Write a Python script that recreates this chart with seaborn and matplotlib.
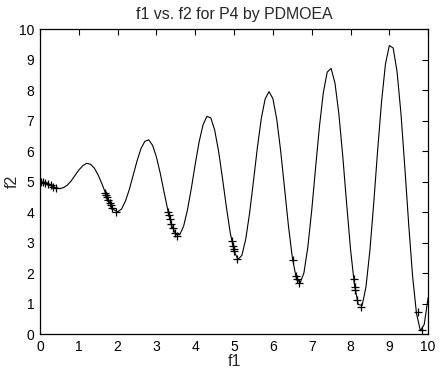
import matplotlib
matplotlib.use("Agg")
import matplotlib.pyplot as plt
import seaborn as sns

curve_f1 = [0.0, 0.1, 0.2, 0.3, 0.4, 0.5, 0.6, 0.7, 0.8, 0.9,
            1.0, 1.1, 1.2, 1.3, 1.4, 1.5, 1.6, 1.7, 1.8, 1.9,
            2.0, 2.1, 2.2, 2.3, 2.4, 2.5, 2.6, 2.7, 2.8, 2.9,
            3.0, 3.1, 3.2, 3.3, 3.4, 3.5, 3.6, 3.7, 3.8, 3.9,
            4.0, 4.1, 4.2, 4.3, 4.4, 4.5, 4.6, 4.7, 4.8, 4.9,
            5.0, 5.1, 5.2, 5.3, 5.4, 5.5, 5.6, 5.7, 5.8, 5.9,
            6.0, 6.1, 6.2, 6.3, 6.4, 6.5, 6.6, 6.7, 6.8, 6.9,
            7.0, 7.1, 7.2, 7.3, 7.4, 7.5, 7.6, 7.7, 7.8, 7.9,
            8.0, 8.1, 8.2, 8.3, 8.4, 8.5, 8.6, 8.7, 8.8, 8.9,
            9.0, 9.1, 9.2, 9.3, 9.4, 9.5, 9.6, 9.7, 9.8, 9.9, 10.0]
curve_f2 = [5.00, 4.98, 4.93, 4.86, 4.80, 4.77, 4.80, 4.88, 5.02, 5.20,
            5.38, 5.52, 5.60, 5.57, 5.44, 5.21, 4.91, 4.58, 4.29, 4.08,
            4.01, 4.10, 4.36, 4.74, 5.21, 5.68, 6.08, 6.32, 6.37, 6.19,
            5.80, 5.26, 4.63, 4.02, 3.54, 3.27, 3.26, 3.54, 4.08, 4.79,
            5.58, 6.31, 6.86, 7.14, 7.09, 6.69, 6.00, 5.12, 4.18, 3.33,
            2.72, 2.45, 2.58, 3.11, 3.97, 5.02, 6.11, 7.06, 7.71, 7.95,
            7.72, 7.04, 6.01, 4.79, 3.56, 2.52, 1.85, 1.67, 2.01, 2.85,
            4.05, 5.45, 6.81, 7.92, 8.59, 8.71, 8.23, 7.22, 5.84, 4.28,
            2.79, 1.63, 0.97, 0.94, 1.56, 2.75, 4.32, 6.04, 7.62, 8.85,
            9.46, 9.38, 8.60, 7.23, 5.46, 3.59, 1.90, 0.68, 0.11, 0.32, 1.20]

# Solutions found by PDMOEA (the + marks)
pts_f1 = [0.02, 0.08, 0.14, 0.20, 0.27, 0.34, 0.42,
          1.68, 1.71, 1.73, 1.76, 1.79, 1.82, 1.86, 1.96,
          3.30, 3.32, 3.35, 3.38, 3.42, 3.47, 3.54,
          4.94, 4.97, 4.99, 5.00, 5.08,
          6.51, 6.59, 6.62, 6.67,
          8.08, 8.11, 8.12, 8.17, 8.26,
          9.73, 9.84]
pts_f2 = [5.00, 4.99, 4.96, 4.93, 4.88, 4.83, 4.79,
          4.64, 4.55, 4.49, 4.40, 4.31, 4.24, 4.15, 4.02,
          4.02, 3.91, 3.76, 3.62, 3.47, 3.32, 3.23,
          3.05, 2.88, 2.80, 2.73, 2.47,
          2.44, 1.92, 1.80, 1.68,
          1.80, 1.55, 1.45, 1.13, 0.90,
          0.73, 0.12]

sns.set_style("white")
plt.rcParams['font.family'] = ['Liberation Sans', 'DejaVu Sans']

fig = plt.figure(figsize=(4.4, 3.68), dpi=100)
ax = fig.add_axes([0.091, 0.092, 0.882, 0.829])

sns.lineplot(x=curve_f1, y=curve_f2, color='k', lw=0.8, sort=False,
             estimator=None, ax=ax)
sns.scatterplot(x=pts_f1, y=pts_f2, marker='+', color='k', s=32,
                linewidth=0.9, ax=ax)

ax.set_xlim(0, 10)
ax.set_ylim(0, 10)
ax.set_xticks(range(0, 11))
ax.set_yticks(range(0, 11))
ax.tick_params(direction='in', length=4, width=0.8, top=True, right=True,
               labelsize=10, pad=4, colors='k')
for s in ax.spines.values():
    s.set_color('k')
    s.set_linewidth(0.9)

ax.set_title("f1 vs. f2 for P4 by PDMOEA", fontsize=11.4, pad=7)
ax.set_xlabel("f1", fontsize=11.5, labelpad=0)
ax.set_ylabel("f2", fontsize=11.5)
ax.yaxis.set_label_coords(-0.052, 0.5)

fig.savefig("out.png", dpi=100)
